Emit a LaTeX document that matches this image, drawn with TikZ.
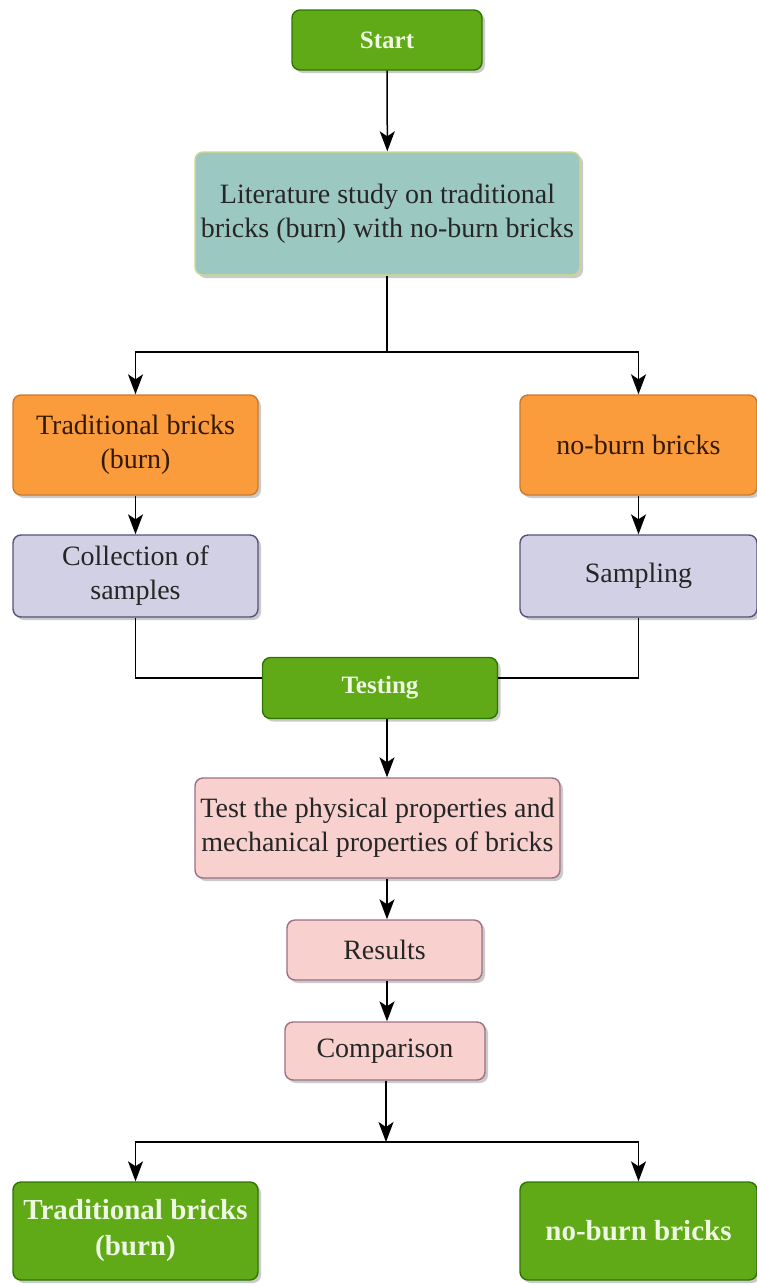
\documentclass[tikz,border=0pt]{standalone}
\usepackage{fontspec}
\setmainfont{Liberation Serif}
\usetikzlibrary{arrows.meta,shadows}

\definecolor{greenfill}{HTML}{60A917}
\definecolor{greenline}{HTML}{2D7600}
\definecolor{greentext}{HTML}{EEF8E2}
\definecolor{tealfill}{HTML}{9CC8C2}
\definecolor{tealline}{HTML}{D2D68A}
\definecolor{orangefill}{HTML}{FA9B3C}
\definecolor{orangeline}{HTML}{C97A30}
\definecolor{lilacfill}{HTML}{D2D0E4}
\definecolor{lilacline}{HTML}{56517E}
\definecolor{pinkfill}{HTML}{F8D0CE}
\definecolor{pinkline}{HTML}{9E6F88}

\begin{document}
\begin{tikzpicture}
        [x=1pt, y=-1pt,
        >={Stealth[length=20pt, width=15pt, inset=5pt]},
        box/.style={rectangle, rounded corners=8pt, line width=1.4pt, align=center,
            inner sep=0pt, font=\fontsize{28}{34}\selectfont, text=black!85,
            drop shadow={shadow xshift=3pt, shadow yshift=-3pt, fill=black!35, opacity=.6}},
        greenbox/.style={box, fill=greenfill, draw=greenline, text=greentext, font=\fontsize{25}{31}\selectfont\bfseries},
        tealbox/.style={box, fill=tealfill, draw=tealline},
        orangebox/.style={box, fill=orangefill, draw=orangeline, text=black!80!orange},
        lilacbox/.style={box, fill=lilacfill, draw=lilacline},
        pinkbox/.style={box, fill=pinkfill, draw=pinkline},
        endbox/.style={greenbox, font=\fontsize{29}{36}\selectfont\bfseries},
        link/.style={line width=1.5pt, black},
        flow/.style={link, ->}]

        \useasboundingbox (0,0) rectangle (757,1286);

        \node[greenbox, minimum width=190pt, minimum height=60pt] (start) at (387,40) {Start};
        \node[tealbox, minimum width=385pt, minimum height=123pt] (lit) at (387.5,213.5)
            {Literature study on traditional\\bricks (burn) with no-burn bricks};
        \node[orangebox, minimum width=245pt, minimum height=100pt] (trad) at (135.5,445) {Traditional bricks\\(burn)};
        \node[orangebox, minimum width=237pt, minimum height=100pt] (nob) at (638.5,445) {no-burn bricks};
        \node[lilacbox, minimum width=245pt, minimum height=82pt] (coll) at (135.5,576) {Collection of\\samples};
        \node[lilacbox, minimum width=237pt, minimum height=82pt] (samp) at (638.5,576) {Sampling};
        \node[greenbox, minimum width=235pt, minimum height=61pt] (testing) at (380,688) {Testing};
        \node[pinkbox, minimum width=365pt, minimum height=100pt] (phys) at (377.5,828)
            {Test the physical properties and\\mechanical properties of bricks};
        \node[pinkbox, minimum width=195pt, minimum height=60pt] (res) at (384.5,950) {Results};
        \node[pinkbox, minimum width=200pt, minimum height=58pt] (comp) at (385,1051) {Comparison};
        \node[endbox, minimum width=245pt, minimum height=98pt] (endtrad) at (135.5,1231) {Traditional bricks\\(burn)};
        \node[endbox, minimum width=237pt, minimum height=98pt] (endnob) at (638.5,1231) {no-burn bricks};

        % spine and split points
        \coordinate (spine) at (387,0);
        \coordinate (split1) at (387,352);
        \coordinate (split2) at (386,1142);

        % top part
        \draw[flow] (start) -- (lit);
        \draw[link] (lit.south -| spine) -- (split1);
        \draw[flow] (split1) -| (trad.north);
        \draw[flow] (split1) -| (nob.north);
        \draw[flow] (trad) -- (coll);
        \draw[flow] (nob) -- (samp);

        % samples go to testing
        \draw[link] (coll.south) |- ([yshift=10pt]testing.west);
        \draw[link] (samp.south) |- ([yshift=10pt]testing.east);

        % testing chain
        \draw[flow] (testing.south -| spine) -- (phys.north -| spine);
        \draw[flow] (phys.south -| spine) -- (res.north -| spine);
        \draw[flow] (res.south -| spine) -- (comp.north -| spine);
        \draw[flow] (comp.south -| split2) -- (split2);
        \draw[flow] (split2) -| (endtrad.north);
        \draw[flow] (split2) -| (endnob.north);

    \end{tikzpicture}
\end{document}
